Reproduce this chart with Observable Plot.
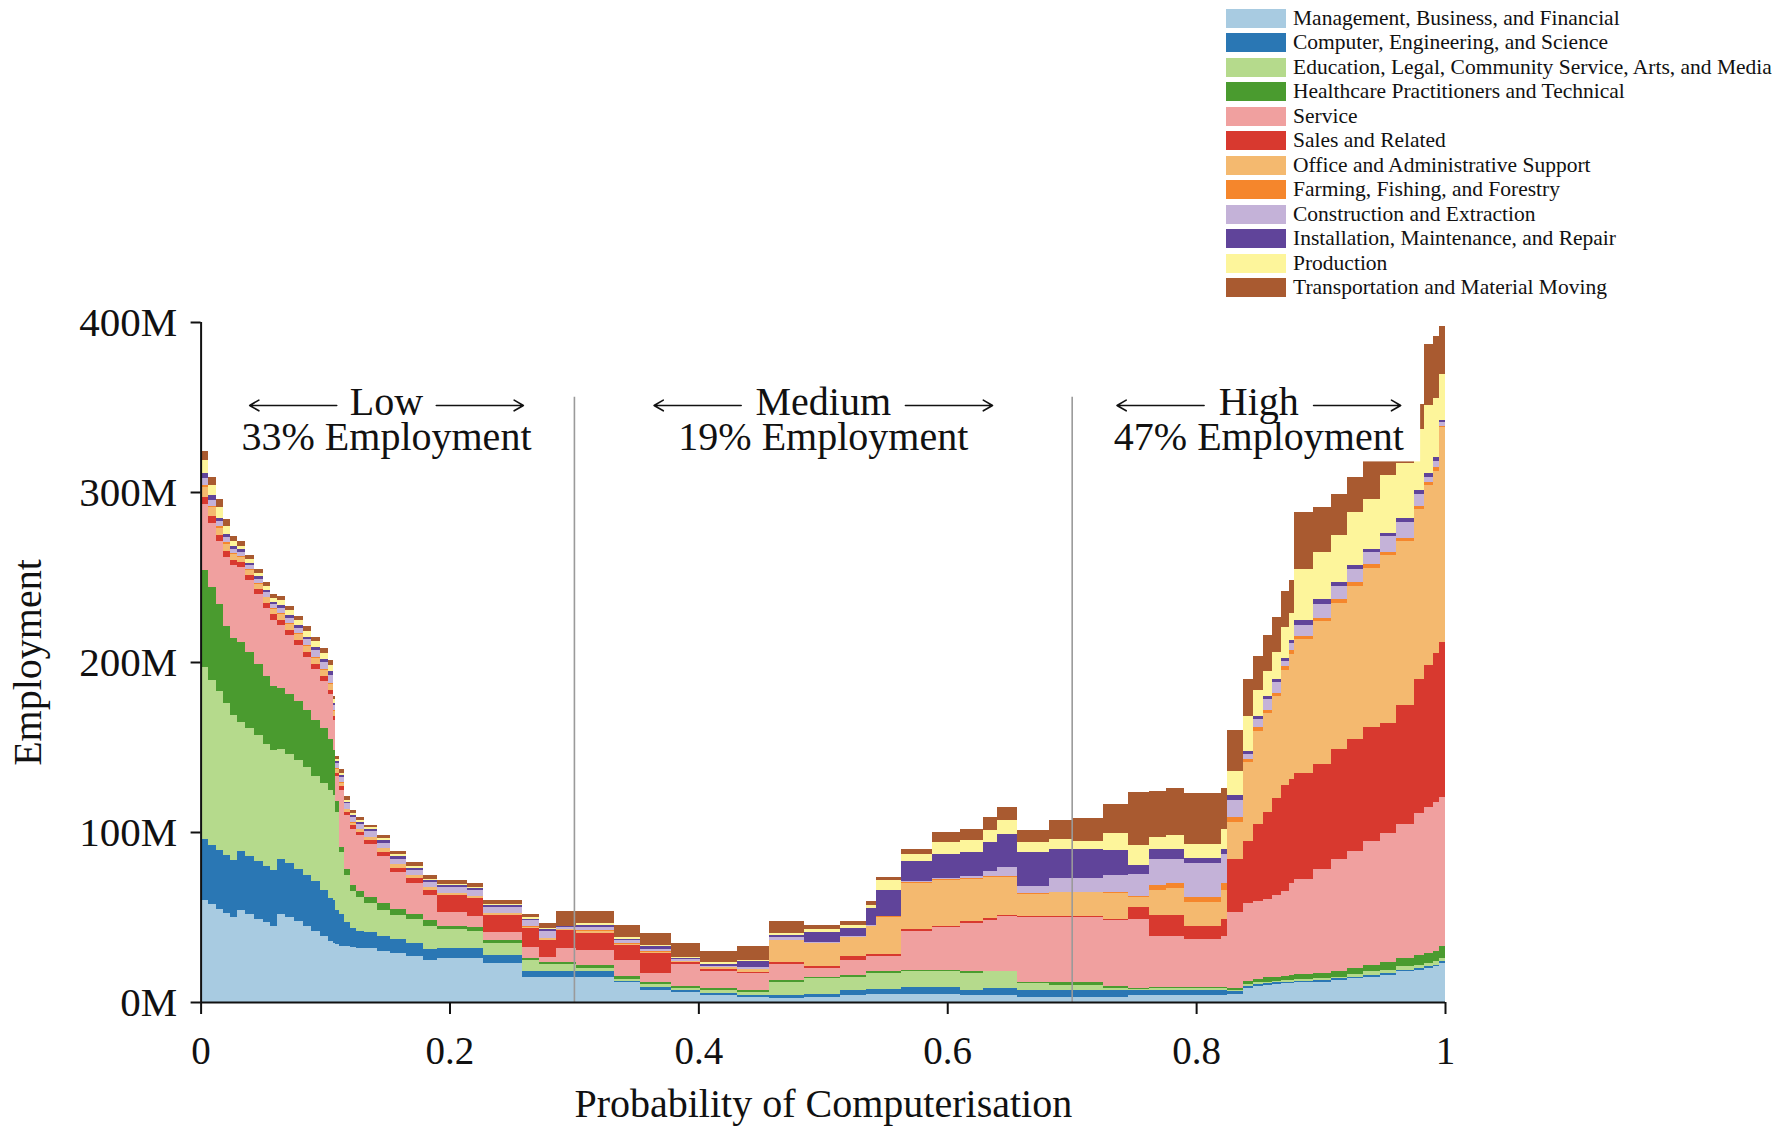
<!DOCTYPE html>
<html>
<head>
<meta charset="utf-8">
<script src="https://cdn.jsdelivr.net/npm/d3@7"></script>
<script src="https://cdn.jsdelivr.net/npm/@observablehq/plot@0.6"></script>
<style>
html,body{margin:0;padding:0;background:#fff;overflow:hidden}
#wrap{position:relative;width:1777px;height:1126px;font-family:'Liberation Serif','Times New Roman',serif;}
#legend{position:absolute;left:1226px;top:6px;font-size:21.5px;color:#111}
.row{display:flex;align-items:center;height:24.5px;white-space:nowrap}
.sw{display:block;width:60px;height:19px;margin-right:7px;flex:none}
svg g[aria-label^="x-axis"] line, svg g[aria-label^="x-axis"] path,
svg g[aria-label^="y-axis"] line, svg g[aria-label^="y-axis"] path {stroke-width:2px;stroke:#111}
svg g[aria-label^="x-axis"] text {font-size:39px;fill:#111}
svg g[aria-label^="y-axis"] text {font-size:41px;fill:#111}
</style>
</head>
<body>
<div id="wrap"></div>
<script>
// ---- categories & colours ----
const categories = [
  "Management, Business, and Financial",
  "Computer, Engineering, and Science",
  "Education, Legal, Community Service, Arts, and Media",
  "Healthcare Practitioners and Technical",
  "Service",
  "Sales and Related",
  "Office and Administrative Support",
  "Farming, Fishing, and Forestry",
  "Construction and Extraction",
  "Installation, Maintenance, and Repair",
  "Production",
  "Transportation and Material Moving"
];
const colors = ["#a8cbe1","#2a77b4","#b5da8c","#4a9b2f","#f0a09f","#d8392f","#f4b96f","#f5862c","#c4b2d8","#60449a","#fdf59b","#a95a30"];

// ---- probability of computerisation (step breakpoints) ----
const prob = [0,0.006,0.012,0.018,0.024,0.0295,0.036,0.043,0.05,0.056,
  0.0615,0.068,0.075,0.082,0.089,0.096,0.102,0.106,0.108,0.111,
  0.115,0.12,0.125,0.131,0.142,0.152,0.165,0.179,0.19,0.214,
  0.227,0.258,0.272,0.286,0.302,0.332,0.353,0.378,0.401,0.431,
  0.457,0.485,0.514,0.535,0.543,0.563,0.588,0.61,0.629,0.64,
  0.656,0.682,0.7,0.725,0.745,0.762,0.776,0.79,0.82,0.825,
  0.838,0.846,0.854,0.861,0.868,0.875,0.879,0.894,0.908,0.921,
  0.934,0.948,0.961,0.975,0.983,0.99,0.995,1.0];

// ---- employment (millions) per category ----
const mgmt = [60,57.5,55,52.5,50,54,51.5,49,47,45, 52,50,47.5,45,42,39,36,35,34,33, 33,32.5,32,32,30,29,27,25,26,25.7, 22.7,14.5,14.5,14.5,15,11.7,7,6,4,2.7, 2.2,3,4,5,5,5,5,4,4,4, 3,3,3,3,4,4,4,4,4,5, 8.5,9.5,10,10.5,11,11,11.5,12,13,14, 15,16,18,19,20,21,23,23];
const comp = [36,35,34.5,34,33.5,35,34.5,34,33,32.5, 32,31.5,31,30,29,27,25,25,20,19, 14,11,10,9,9,8,8,6,6,5.9, 4.9,3.9,3.9,3.9,3.4,0.6,2,1,1.5,1.4, 1.9,2,3,2.5,2.5,4,4,3,4,4, 4,4,4,4,3,3,3,3,3,1.5, 1,1,1,1,1,1,1,1,1,1, 1,1,1,1,1,1,1,1];
const edu = [101,97,93.5,89.5,85.5,76,75,74,72,70.5, 65,64.5,64,63,62,63,64,62,58,36, 28,22,20,17,15,14,14,14,11,10.4, 6.9,6.3,4,4,1.4,1.4,1.6,1.4,1.5,1.6, 7.7,9,8,9.5,9.5,9,9,10,10,10, 4,3,3,1.5,0.5,1,1,1,1,0.5, 1,1,1,1,1,1,1,1,1,1.5, 2,2,2,2,2,2,2,2];
const health = [57,54.5,51,45,45,47,45,42,40,38, 36,35,34.5,34,33,32,30,26,6,3, 3,3.5,3.5,4,4,3.5,3,3,2,2, 2,1.3,1.3,1.3,2,1.4,1.4,1.2,1,1.3, 1.4,1,1,1,1,1,1,1.5,0.5,0.5, 1,1.5,1.5,1,0.5,1,1,1,1,1, 2,2,2.5,2.5,2.5,3,3,3,3.5,3.5, 4,4.5,5,5.5,6,6,7,7];
const service = [39,38,37,41,43,44,42,41,40,39, 37,35,33,31,30,28,26,18,15,34, 32,33,32.5,31,28,22,18,15,8,6.6, 4.9,6.5,3,7.8,9,9.4,5,12.7,10,10, 9.4,5,9,9,9,23,25,28,30,32, 38,38.5,38.5,39,41,30,30,28,30,45, 45.5,46,46,48,50,54,56,61,65.5,69, 72.5,76,78.5,83.5,86,87.5,87.5,87.5];
const sales = [4,4,3.5,3.5,3,3,3,3,3,3, 3,3,3,3,3,3,2.5,2,2,2, 2,2,2,2.5,2.5,2.5,3,3,10,10.8, 9.8,10.8,9.8,10.8,9.6,8.8,11.6,1.4,1.3,0.7, 1,1,2,1.5,1.5,1,1,1,1,0.5, 0.5,0.5,0.5,0.5,7,12,12,8,10,31, 37,45,51.5,57,62,61,62,62,65,66, 67.5,64.5,70,79,83,88,91.5,91.5];
const office = [6,5,4.5,4,3.5,3,3,3,3,3, 3.5,3.5,3.5,3.5,3.5,3.5,3.5,3,2,2, 1.5,1.5,1.5,1.5,2,2,1.5,1.5,1,0.9, 1,1,1,0.5,1.5,1,1,0.5,1,1.5, 12.6,13.5,11,16,21.5,27,27,25,24,22.5, 13,14,14,15,6,15,16,14,17,22, 46,55,58,60,68,74,79,84,86,90, 93.5,99,96.5,100,106,107,126,126];
const farm = [1,1,1,1,0.5,0.5,0.5,0.5,0.5,0.5, 0.5,0.5,0.5,0.5,0.5,0.5,0.5,0.5,0.5,0.5, 0.3,0.3,0.3,0.3,0.3,0.3,0.3,0.3,0.2,0.2, 0.2,0.2,0.2,0.2,0.2,0.2,0.2,0.2,0.2,0.3, 0.3,0.3,0.3,0.3,0.3,0.5,0.5,0.5,0.5,0.5, 0.5,0.5,0.5,0.5,0.5,3,3,3,4,3, 2,2,2,2,2,2,2,2,2,2, 2,2,2,2,2,2,1,1];
const constr = [4,3.5,3,3,2.5,2.5,2.5,2.5,2.5,2.5, 3,3,3,3.5,4,4,5,3,3,3, 3,3,3,3,3,3,3,3,3.5,3.5, 3.6,3.5,4,1,2.2,1.7,1.5,0.7,0.5,1, 1.5,0.5,0.5,0.5,0.5,0.5,0.5,1,3,5.5, 4.5,8,8,10,13,15,14,20,17,10, 3,5,6,6,3,4,6,8,8,8, 7,9,9.5,7,3,4,2,2];
const install = [3,2.5,2,2,1.5,1.5,1.5,1.5,1.5,1.5, 1.5,1.5,1.5,1.5,2,2,2,1.5,1,1, 1,1,1,1.5,1.5,1.5,1,1,1,1, 1,1,1,0.5,1,1,1.5,1,1.3,3.5, 1.5,6,4.5,10,15,12,14,14.5,17,19.5, 19.5,17,17,15,5,6,6,3,3,3, 1.5,2,2,2,2,2,3,3,2,2, 2,2,2,2,2,2,1.5,1.5];
const prod = [8,6,6,4.5,3,2,2,2,2,2, 3,3,3,3.5,3.5,3.5,4,2,1.5,1.5, 1.2,1.2,1.2,1,1,1,1,0.7,0.5,0.5, 0.6,1,1,0.5,1,1,1,0.6,1.4,1, 1,1.5,2,2,6,4,7,7,7,8, 6,6,5,10,12,7,8,8,12,14, 21,15,15,16,18,16,30,28,28,31, 29.5,34,32.5,36,40,35,27,27];
const transport = [5,5,5,4,3,2.5,2.5,2.5,2.5,2.5, 2.5,2.5,2.5,2.5,2.5,2.5,2.5,2,2,2, 2,2,2,1.5,2,2,2.5,2.5,2.5,2.5, 2.3,2,2.5,8.8,7.3,7,6.6,8.2,6.4,8, 7,2.5,2.5,2,2,3,6,6,8,8, 7,11,13,17,31,27,28,30,24,24, 21.5,20,21,20.5,21,19,34,26,24,21, 23.5,16,19,15,36,36,28,28];

// ---- ticks ----
const xTicks = [0, 0.2, 0.4, 0.6, 0.8, 1];
const xTickLabels = ["0", "0.2", "0.4", "0.6", "0.8", "1"];
const yTicks = [0, 100, 200, 300, 400];
const yTickLabels = ["0M", "100M", "200M", "300M", "400M"];

// ---- annotations ----
const divisions = [0.3, 0.7];
const annoNames = ["Low", "Medium", "High"];
const annoShares = ["33% Employment", "19% Employment", "47% Employment"];
const annoCenter = [0.149, 0.5, 0.85];
const annoGap = [0.04, 0.066, 0.044];

// ---- layout constants (data units) ----
const arrowLen = 0.07, boxHalf = 0.13;
const labelY = 341.8, arrowY = 351.2, boxBottom = 318, boxTop = 372, ruleTop = 356;

const series = [mgmt, comp, edu, health, service, sales, office, farm, constr, install, prod, transport];
const data = prob.flatMap((p, i) => categories.map((c, j) => ({p, cat: c, v: series[j][i]})));
const annos = annoNames.map((name, i) => ({name, share: annoShares[i], c: annoCenter[i], g: annoGap[i]}));
const arrows = annos.flatMap(a => [
  {x1: a.c - a.g, x2: a.c - a.g - arrowLen},
  {x1: a.c + a.g, x2: a.c + a.g + arrowLen}
]);

const chart = Plot.plot({
  width: 1777, height: 1126,
  marginLeft: 200.6, marginRight: 332, marginTop: 322, marginBottom: 124,
  style: {fontFamily: "'Liberation Serif', 'Times New Roman', serif", fontSize: "39px", background: "white", color: "#111"},
  x: {domain: [0, 1], ticks: xTicks, tickFormat: d => xTickLabels[xTicks.indexOf(d)], tickSize: 12, tickPadding: 22, label: null},
  y: {domain: [0, 400], ticks: yTicks, tickFormat: d => yTickLabels[yTicks.indexOf(d)], tickSize: 10, tickPadding: 14, label: null},
  color: {domain: categories, range: colors},
  marks: [
    Plot.areaY(data, {x: "p", y: "v", fill: "cat", z: "cat", order: categories, curve: "step-after", shapeRendering: "crispEdges"}),
    Plot.ruleX(divisions, {y1: 0, y2: ruleTop, stroke: "#9a9a9a", strokeWidth: 1.6}),
    Plot.rect(annos, {x1: d => d.c - boxHalf, x2: d => d.c + boxHalf, y1: boxBottom, y2: boxTop, fill: "white"}),
    Plot.arrow(arrows, {x1: "x1", x2: "x2", y1: arrowY, y2: arrowY, stroke: "#111", strokeWidth: 1.6, headLength: 10, headAngle: 60}),
    Plot.text(annos, {x: "c", y: labelY, text: d => d.name + "\n" + d.share, lineHeight: 0.87, fontSize: 40, fill: "#111", textAnchor: "middle", lineAnchor: "middle"}),
    Plot.ruleY([0], {stroke: "#111", strokeWidth: 2}),
    Plot.ruleX([0], {stroke: "#111", strokeWidth: 2}),
    Plot.text(["Employment"], {frameAnchor: "left", dx: -172.6, rotate: -90, fontSize: 40, fill: "#111", textAnchor: "middle", lineAnchor: "middle"}),
    Plot.text(["Probability of Computerisation"], {frameAnchor: "bottom", dy: 102, fontSize: 40, fill: "#111", textAnchor: "middle", lineAnchor: "middle"})
  ]
});

const wrap = document.getElementById("wrap");
wrap.append(chart);

const legend = document.createElement("div");
legend.id = "legend";
categories.forEach((c, i) => {
  const row = document.createElement("div");
  row.className = "row";
  const sw = document.createElement("span");
  sw.className = "sw";
  sw.style.background = colors[i];
  const t = document.createElement("span");
  t.textContent = c;
  row.append(sw, t);
  legend.append(row);
});
wrap.append(legend);
</script>
</body>
</html>
